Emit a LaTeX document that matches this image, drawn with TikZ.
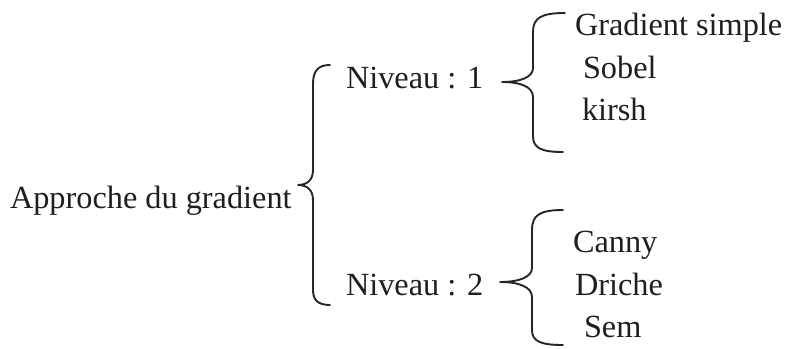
\documentclass[tikz,border=0pt]{standalone}
\usepackage{fontspec}
\setmainfont{Liberation Serif}
\begin{document}
\begin{tikzpicture}[x=1pt,y=-1pt,
  label/.style={anchor=base west,inner sep=0pt,outer sep=0pt,text=black!88,
    font=\fontsize{32.3}{38}\selectfont},
  bracestroke/.style={draw=black!85,line width=1.9pt,line cap=round,line join=round}]
  \fill[white] (0,0) rectangle (786,348);
  \useasboundingbox (0,0) rectangle (786,348);

  % root and levels
  \node[label] (root) at (10,208) {Approche du gradient};
  \node[label] (n1) at (346,88) {Niveau : 1};
  \node[label] (n2) at (346,295) {Niveau : 2};

  % level 1 methods
  \node[label] (g1) at (575,35) {Gradient simple};
  \node[label] (g2) at (583,78) {Sobel};
  \node[label] (g3) at (582,120) {kirsh};

  % level 2 methods
  \node[label] (c1) at (573,252) {Canny};
  \node[label] (c2) at (575,295) {Driche};
  \node[label] (c3) at (584,337) {Sem};

  % brace tips
  \coordinate (t0) at (298,185);
  \coordinate (t1) at (502,82);
  \coordinate (t2) at (500,282);

  % main brace
  \draw[bracestroke] (330,65) .. controls (318,65) and (313,71) .. (313,84)
    -- (313,170) .. controls (313,180) and (307,185) .. (t0)
    .. controls (307,185) and (313,190) .. (313,200)
    -- (313,290) .. controls (313,300) and (318,305) .. (330,305);

  % level 1 brace
  \draw[bracestroke] (565,13) .. controls (541,13) and (533,18) .. (533,32)
    -- (533,68) .. controls (533,77) and (521,82) .. (t1)
    .. controls (521,82) and (533,87) .. (533,97)
    -- (533,136) .. controls (533,148) and (541,152) .. (563,152);

  % level 2 brace
  \draw[bracestroke] (563,210) .. controls (540,210) and (532,215) .. (532,230)
    -- (532,268) .. controls (532,277) and (519,282) .. (t2)
    .. controls (519,282) and (532,287) .. (532,297)
    -- (532,330) .. controls (532,341) and (540,345) .. (563,345);
\end{tikzpicture}
\end{document}
